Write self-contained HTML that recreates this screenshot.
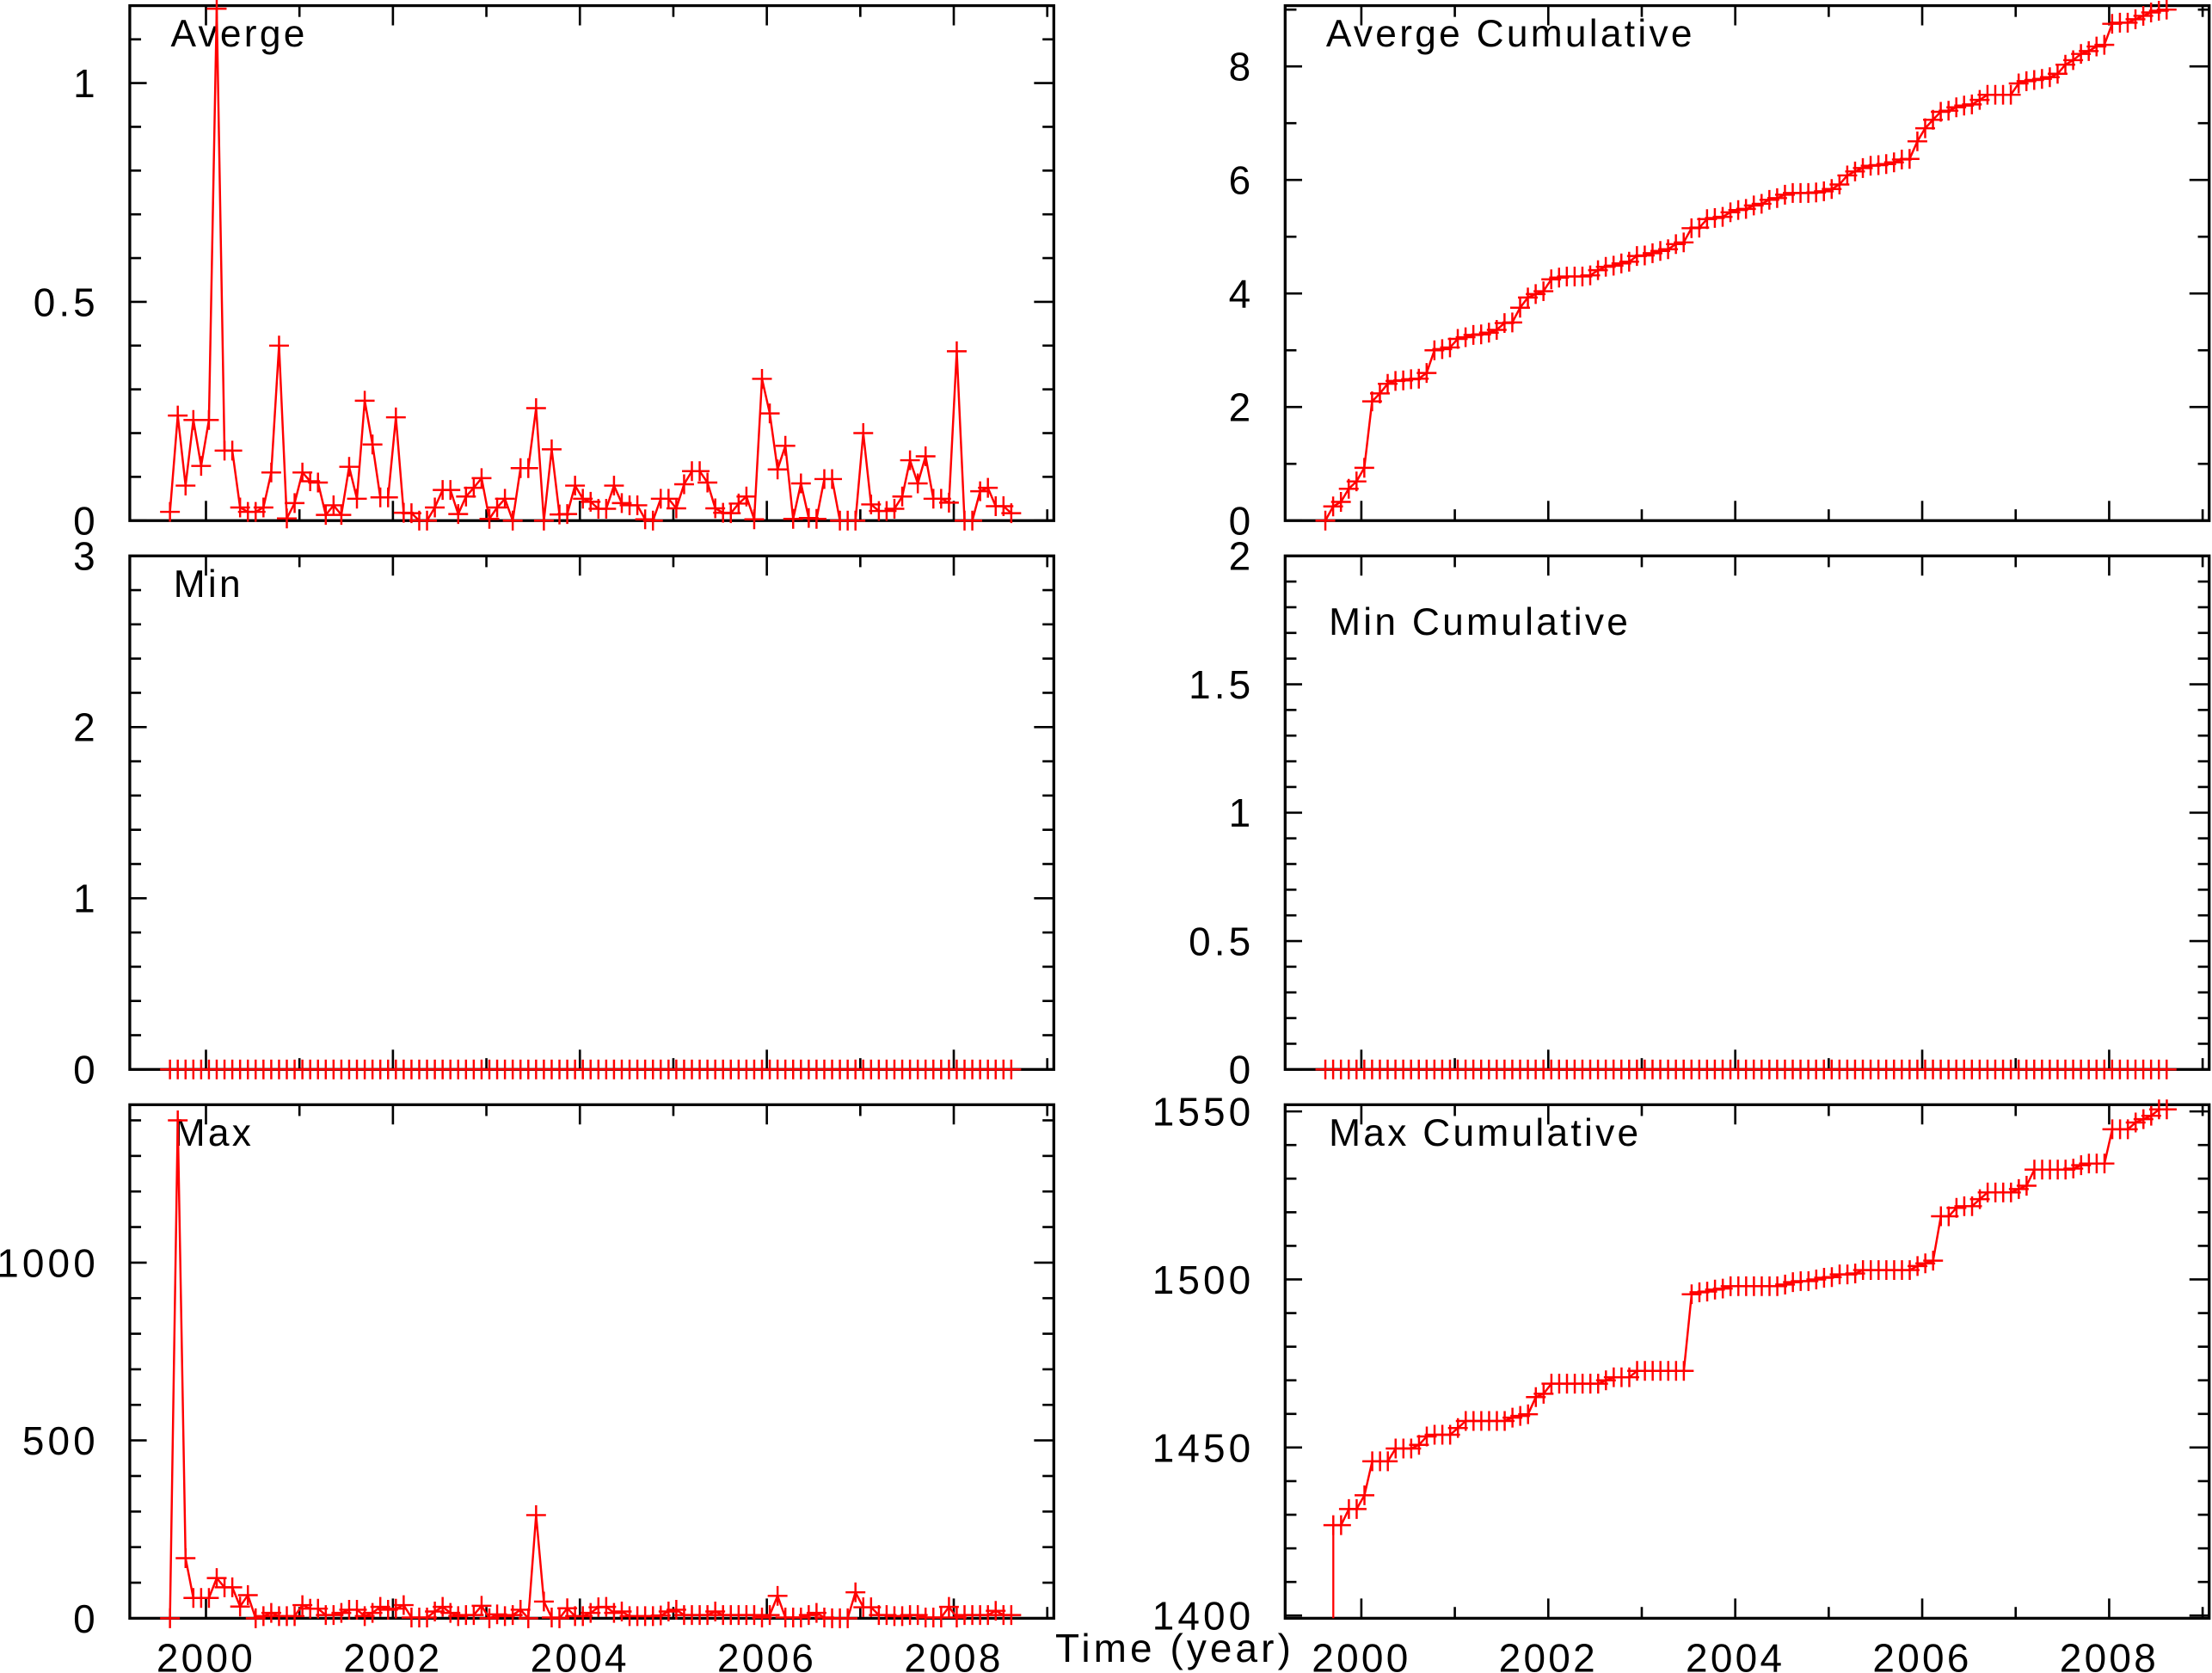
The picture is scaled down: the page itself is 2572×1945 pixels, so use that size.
<!DOCTYPE html>
<html><head><meta charset="utf-8"><style>
html,body{margin:0;padding:0;background:#fff;}
svg{display:block;}
text{font-family:"Liberation Sans","DejaVu Sans",sans-serif;fill:#000;}
</style></head><body>
<svg id="chart" width="2572" height="1945" viewBox="0 0 1568 1185.8" preserveAspectRatio="none" xmlns="http://www.w3.org/2000/svg"></svg>
<script>
const avgValues=[0.02,0.24,0.08,0.23,0.125,0.23,1.17,0.16,0.16,0.03,0.02,0.02,0.03,0.11,0.40,0.005,0.04,0.11,0.09,
0.087,0.013,0.035,0.013,0.123,0.05,0.274,0.174,0.053,0.053,0.236,0.018,0.017,0,0,0.03,0.07,0.07,0.015,0.055,0.075,0.097,
0.004,0.03,0.05,0,0.12,0.12,0.257,0,0.163,0.014,0.015,0.08,0.05,0.043,0.027,0.027,0.08,0.04,0.035,0.035,0.003,0,0.05,0.05,
0.028,0.083,0.113,0.113,0.087,0.028,0.018,0.017,0.039,0.055,0.003,0.324,0.245,0.117,0.171,0.004,0.085,0.006,0.004,0.095,0.095,
0,0,0,0.2,0.037,0.022,0.022,0.027,0.055,0.138,0.085,0.147,0.05,0.05,0.041,0.387,0,0,0.067,0.075,0.033,0.033,0.017];
const avgCumValues=[0,0.25,0.33,0.56,0.69,0.93,2.1,2.24,2.41,2.46,2.47,2.49,2.5,2.6,3.0,3.02,3.05,3.2,3.23,3.27,3.28,3.31,3.36,3.48,3.49,3.75,3.93,3.99,4.04,4.25,4.28,4.3,4.3,4.3,4.32,4.41,4.47,4.49,4.53,4.56,4.66,4.67,4.71,4.75,4.78,4.87,4.9,5.15,5.16,5.31,5.33,5.35,5.43,5.47,5.49,5.55,5.58,5.65,5.68,5.74,5.77,5.77,5.77,5.78,5.8,5.84,5.92,6.08,6.15,6.21,6.25,6.26,6.28,6.31,6.36,6.37,6.68,6.91,7.06,7.2,7.22,7.28,7.31,7.33,7.41,7.5,7.5,7.5,7.5,7.7,7.74,7.76,7.78,7.81,7.87,8.03,8.11,8.22,8.27,8.35,8.38,8.75,8.77,8.77,8.83,8.89,8.95,8.98,9.0];
const minValues=new Array(109).fill(0);
const minCumValues=new Array(109).fill(0);
const maxValues=[0,1400,169,57,57,57,113,87,87,33,65,0,6,15,6,6,6,37,27,27,9,9,15,24,24,6,15,32,24,27,37,2,2,2,19,32,15,6,9,9,35,0,11,6,9,24,0,290,47,2,0,28,6,6,15,31,32,15,19,6,6,6,6,8,19,24,9,9,9,9,19,9,9,9,9,9,2,9,63,2,2,2,9,15,2,0,0,0,73,31,31,9,9,6,6,9,9,2,2,2,32,2,9,9,9,9,21,9,9];
const maxCumValues=[1426.9,1426.9,1431.7,1431.7,1435.8,1445.9,1445.9,1445.9,1449.7,1449.7,1449.7,1450.8,1453.3,1453.8,1453.8,1453.8,1455.8,1457.9,1457.9,1457.9,1457.9,1457.9,1457.9,1458.9,1459.4,1459.9,1465,1466,1469,1469,1469,1469,1469,1469,1469,1470,1470.9,1470.9,1470.9,1472.8,1472.8,1472.8,1472.8,1472.8,1472.8,1472.8,1495.6,1496.2,1496.4,1497,1497.3,1498,1498,1498,1498,1498,1498,1498,1498.5,1499.2,1499.5,1499.5,1500,1500.5,1500.7,1501.5,1501.5,1501.8,1502.8,1502.8,1502.8,1502.8,1502.8,1502.8,1502.8,1504,1504.8,1505.6,1518.8,1518.8,1521.3,1521.8,1521.8,1523.9,1525.9,1525.9,1525.9,1525.9,1526.9,1527.9,1532.7,1532.7,1532.7,1532.7,1532.7,1533,1534,1534.5,1534.5,1534.5,1544.7,1544.7,1544.7,1546.7,1547.7,1548.7,1550.6,1550.6];
const xTickYears=[2000,2002,2004,2006,2008];
const startYear=1999.615;
const maxCumStartYear=1999.70;

const NS="http://www.w3.org/2000/svg";
const svg=document.getElementById('chart');
function el(tag,attrs,parent){const e=document.createElementNS(NS,tag);for(const k in attrs)e.setAttribute(k,attrs[k]);(parent||svg).appendChild(e);return e;}

const panels=[
 {name:'averge',title:'Averge',tx:121,ty:33,x0:92,x1:747,y0:4,y1:369,ymin:0,ymax:1.177,minor:0.1,major:0.5,labels:[0,0.5,1],data:avgValues,start:startYear,dropLine:false},
 {name:'averge-cumulative',title:'Averge  Cumulative',tx:940,ty:33,x0:911,x1:1566,y0:4,y1:369,ymin:0,ymax:9.07,minor:1,major:2,labels:[0,2,4,6,8],data:avgCumValues,start:startYear,dropLine:false},
 {name:'min',title:'Min',tx:123,ty:423,x0:92,x1:747,y0:394,y1:758,ymin:0,ymax:3,minor:0.2,major:1,labels:[0,1,2,3],data:minValues,start:startYear,dropLine:false},
 {name:'min-cumulative',title:'Min  Cumulative',tx:942,ty:450,x0:911,x1:1566,y0:394,y1:758,ymin:0,ymax:2,minor:0.1,major:0.5,labels:[0,0.5,1,1.5,2],data:minCumValues,start:startYear,dropLine:false},
 {name:'max',title:'Max',tx:123,ty:812,x0:92,x1:747,y0:783,y1:1147,ymin:0,ymax:1444,minor:100,major:500,labels:[0,500,1000],data:maxValues,start:startYear,dropLine:false},
 {name:'max-cumulative',title:'Max  Cumulative',tx:942,ty:812,x0:911,x1:1566,y0:783,y1:1147,ymin:1399.2,ymax:1552,minor:10,major:50,labels:[1400,1450,1500,1550],data:maxCumValues,start:maxCumStartYear,dropLine:true}
];
const XMIN=1999.185, XMAX=2009.07;

panels.forEach(p=>{
 const g=el('g',{});
 
 
 const xs=y=>p.x0+(y-XMIN)/(XMAX-XMIN)*(p.x1-p.x0);
 const ys=v=>p.y1-(v-p.ymin)/(p.ymax-p.ymin)*(p.y1-p.y0);
 const fr=el('rect',{x:p.x0,y:p.y0,width:p.x1-p.x0,height:p.y1-p.y0,fill:'none',stroke:'#000','stroke-width':2},g);
 
 
 for(let yr=2000;yr<=2009;yr++){
  const x=xs(yr); const L=(yr%2===0)?14:8;
  el('line',{x1:x,x2:x,y1:p.y1,y2:p.y1-L,stroke:'#000','stroke-width':1.6},g);
  el('line',{x1:x,x2:x,y1:p.y0,y2:p.y0+L,stroke:'#000','stroke-width':1.6},g);
 }
 const first=Math.ceil(p.ymin/p.minor-1e-6)*p.minor;
 for(let v=first;v<=p.ymax+1e-9;v+=p.minor){
  const vv=Math.round(v/p.minor)*p.minor;
  const isMaj=Math.abs(vv/p.major-Math.round(vv/p.major))<1e-6;
  const y=ys(vv);
  el('line',{x1:p.x0,x2:p.x0+(isMaj?12:8),y1:y,y2:y,stroke:'#000','stroke-width':1.6},g);
  el('line',{x1:p.x1,x2:p.x1-(isMaj?14:8),y1:y,y2:y,stroke:'#000','stroke-width':1.6},g);
 }
 p.labels.forEach(v=>{
  const t=el('text',{x:p.x0-22,y:ys(v)+10,'text-anchor':'end','font-size':28,'letter-spacing':2.5},g);
  t.textContent=String(v);
  
  
 });
 const tt=el('text',{x:p.tx,y:p.ty,'font-size':27,'letter-spacing':2,'xml:space':'preserve'},g);
 tt.textContent=p.title;
 
 
 const pts=p.data.map((v,i)=>[xs(p.start+i/12),ys(v)]);
 const poly=el('polyline',{points:pts.map(q=>q[0].toFixed(2)+','+q[1].toFixed(2)).join(' '),fill:'none',stroke:'#ff0000','stroke-width':1.5},g);
 
 
 if(p.dropLine){
  const dl=el('line',{x1:pts[0][0],x2:pts[0][0],y1:pts[0][1],y2:p.y1,stroke:'#ff0000','stroke-width':1.4},g);
  
  
 }
 let d='';
 pts.forEach(q=>{d+='M'+(q[0]-7).toFixed(2)+' '+q[1].toFixed(2)+'h14M'+q[0].toFixed(2)+' '+(q[1]-7).toFixed(2)+'v14';});
 const mk=el('path',{d:d,stroke:'#ff0000','stroke-width':1.5,fill:'none'},g);
 
 
 if(p.y1===1147){
  xTickYears.forEach(yr=>{
   const t=el('text',{x:xs(yr),y:1185,'text-anchor':'middle','font-size':28,'letter-spacing':2},g);
   t.textContent=String(yr);
   
   
  });
 }
});
const xt=el('text',{x:748,y:1178,'font-size':28,textLength:167,lengthAdjust:'spacing','xml:space':'preserve'});
xt.textContent='Time  (year)';


</script>
</body></html>
